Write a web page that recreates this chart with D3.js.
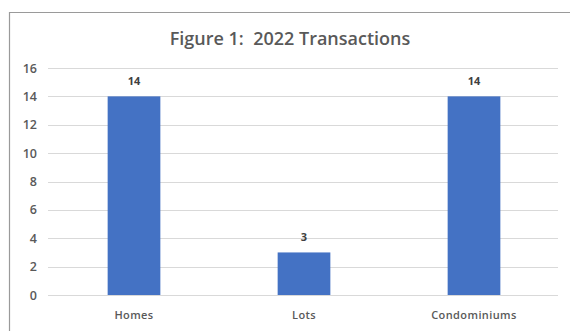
<!DOCTYPE html>
<html>
<head>
<meta charset="utf-8">
<script src="https://cdn.jsdelivr.net/npm/d3@7"></script>
<style>
  html, body { margin: 0; padding: 0; background: #fff; }
  svg { display: block; }
</style>
</head>
<body>
<svg id="chart" width="570" height="331"></svg>
<script>
// 2022 transaction counts by property type
const categories = ["Homes", "Lots", "Condominiums"];
const transactions = [14, 3, 14];
const yTicks = [0, 2, 4, 6, 8, 10, 12, 14, 16];
const chartTitle = "Figure 1:  2022 Transactions";

const W = 570, H = 331;
const margin = { top: 68, right: 12, bottom: 36, left: 48 };
const svg = d3.select("#chart");
const textColor = "#595959";
const fontFamily = "'Open Sans', 'Liberation Sans', sans-serif";

// chart frame (only top and left edges are inside the page)
svg.append("path")
  .attr("d", `M9.5,${H} V12.5 H${W}`)
  .attr("fill", "none")
  .attr("stroke", "#9a9a9a")
  .attr("stroke-width", 1.2);

const x = d3.scaleBand()
  .domain(categories)
  .range([margin.left + 1, W - margin.right + 1])
  .paddingInner(0.69)
  .paddingOuter(0.345);

const y = d3.scaleLinear()
  .domain([0, 16])
  .range([295, margin.top]);

// gridlines
svg.append("g")
  .selectAll("line")
  .data(yTicks)
  .join("line")
  .attr("x1", margin.left)
  .attr("x2", W - margin.right)
  .attr("y1", d => Math.round(y(d)) + 0.5)
  .attr("y2", d => Math.round(y(d)) + 0.5)
  .attr("stroke", "#d9d9d9")
  .attr("stroke-width", 1);

// y axis labels
const yAxis = d3.axisLeft(y).tickValues(yTicks).tickSize(0).tickPadding(0);
const yg = svg.append("g")
  .attr("transform", `translate(37,0)`)
  .call(yAxis);
yg.select(".domain").remove();
yg.selectAll("text")
  .attr("fill", textColor)
  .attr("font-family", fontFamily)
  .attr("font-weight", 600)
  .attr("font-size", 12.5);

// bars
svg.append("g")
  .selectAll("rect")
  .data(transactions)
  .join("rect")
  .attr("x", (d, i) => x(categories[i]))
  .attr("width", x.bandwidth())
  .attr("y", d => y(d))
  .attr("height", d => y(0) - y(d))
  .attr("fill", "#4472c4");

// value labels
svg.append("g")
  .selectAll("text")
  .data(transactions)
  .join("text")
  .attr("x", (d, i) => x(categories[i]) + x.bandwidth() / 2)
  .attr("y", d => y(d) - 11)
  .attr("text-anchor", "middle")
  .attr("fill", "#404040")
  .attr("font-family", fontFamily)
  .attr("font-weight", 700)
  .attr("font-size", 11)
  .text(d => d);

// category axis labels
const xAxis = d3.axisBottom(x).tickSize(0).tickPadding(0);
const xg = svg.append("g")
  .attr("transform", `translate(0,311)`)
  .call(xAxis);
xg.select(".domain").remove();
xg.selectAll("text")
  .attr("fill", textColor)
  .attr("font-family", fontFamily)
  .attr("font-weight", 600)
  .attr("font-size", 11)
  .attr("letter-spacing", 0.4);

// title (keeps the double space after the colon)
svg.append("text")
  .attr("x", 290)
  .attr("y", 45)
  .attr("text-anchor", "middle")
  .attr("fill", textColor)
  .attr("font-family", fontFamily)
  .attr("font-weight", 600)
  .attr("font-size", 18)
  .style("white-space", "pre")
  .text(chartTitle);
</script>
</body>
</html>
